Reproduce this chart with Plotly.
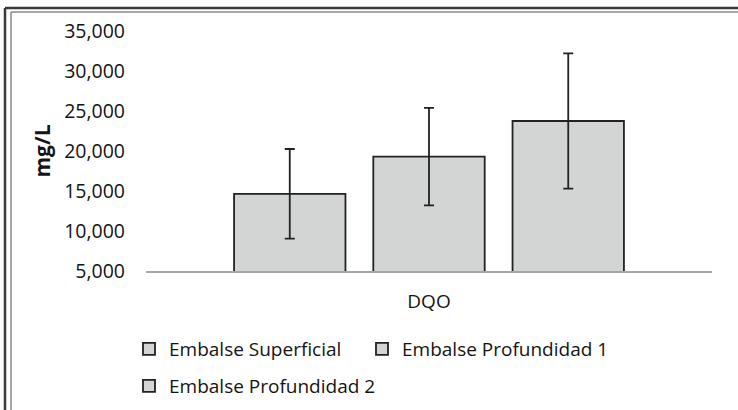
import plotly.graph_objects as go

categories = ["DQO"]
series_names = ["Embalse Superficial", "Embalse Profundidad 1", "Embalse Profundidad 2"]
means = [14650, 19300, 23750]
errors = [5600, 6100, 8450]
y_ticks = [5000, 10000, 15000, 20000, 25000, 30000, 35000]
legend_ids = ["legend", "legend2", "legend3"]

W, H = 738, 410
ML, MR, MT, MB = 146, 26, 31, 139
PW, PH = W - ML - MR, H - MT - MB

def px_x(p):
    return (p - ML) / PW

def px_y(p):
    return (H - MB - p) / PH

FONT = "Open Sans"
TXT = "#141414"
fig = go.Figure()
for name, m, e, lg in zip(series_names, means, errors, legend_ids):
    fig.add_trace(go.Bar(
        name=name, x=categories, y=[m], legend=lg,
        marker=dict(color="#d3d4d4", line=dict(color="#222222", width=1.8)),
        error_y=dict(type="data", array=[e], visible=True, color="#222222",
                     thickness=1.8, width=5),
    ))

shapes = [
    dict(type="line", xref="paper", yref="paper", x0=px_x(5), x1=px_x(745), y0=px_y(8), y1=px_y(8),
         line=dict(color="#3a3a3a", width=2.5)),
    dict(type="line", xref="paper", yref="paper", x0=px_x(5), x1=px_x(5), y0=px_y(8), y1=px_y(420),
         line=dict(color="#3a3a3a", width=2.5)),
    dict(type="line", xref="paper", yref="paper", x0=px_x(11), x1=px_x(745), y0=px_y(12), y1=px_y(12),
         line=dict(color="#8a8a8a", width=1.5)),
    dict(type="line", xref="paper", yref="paper", x0=px_x(11), x1=px_x(11), y0=px_y(12), y1=px_y(420),
         line=dict(color="#8a8a8a", width=1.5)),
]

leg_common = dict(orientation="h", xanchor="left", yanchor="top",
                  font=dict(family=FONT, size=19, color=TXT),
                  bgcolor="rgba(0,0,0,0)")

fig.update_layout(
    width=W, height=H,
    margin=dict(l=ML, r=MR, t=MT, b=MB, autoexpand=False),
    paper_bgcolor="white", plot_bgcolor="white",
    barmode="group", bargap=0.262, bargroupgap=0.2,
    font=dict(family=FONT, size=19, color=TXT),
    showlegend=True,
    legend=dict(x=px_x(129), y=px_y(330), **leg_common),
    legend2=dict(x=px_x(362), y=px_y(330), **leg_common),
    legend3=dict(x=px_x(129), y=px_y(367), **leg_common),
    xaxis=dict(showline=True, linecolor="#a6a6a6", linewidth=1.5, ticks="",
               showgrid=False, zeroline=False, ticklabelstandoff=12,
               tickfont=dict(family=FONT, size=19, color=TXT)),
    yaxis=dict(range=[5000, 35000], tickvals=y_ticks, tickformat=",", showgrid=False,
               zeroline=False, showline=False, ticks="", ticklabelstandoff=20,
               tickfont=dict(family=FONT, size=19.5, color=TXT),
               title=dict(text="<b>mg/L</b>", standoff=7,
                          font=dict(family=FONT, size=21, color=TXT))),
    shapes=shapes,
)

fig.write_html("out.html", config={"displayModeBar": False},
               post_script="document.body.style.margin='0';document.body.style.padding='0';")
